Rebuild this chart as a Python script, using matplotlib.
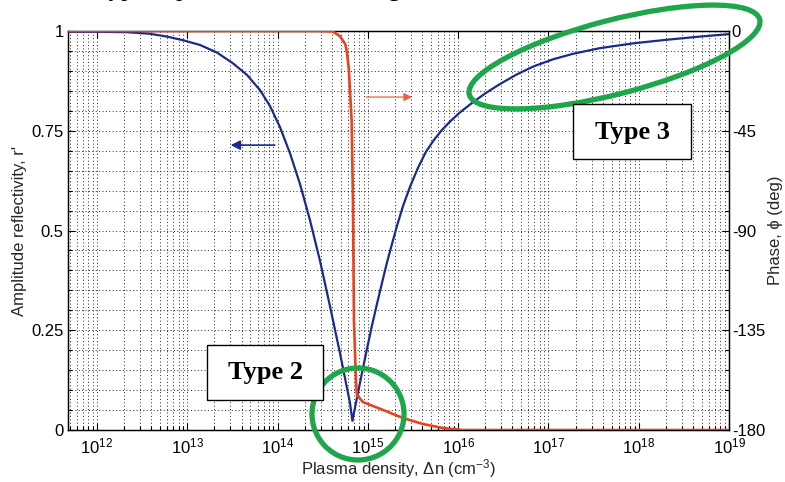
import numpy as np
import matplotlib
matplotlib.use("Agg")
import matplotlib.pyplot as plt
from matplotlib.patches import Ellipse, Circle, Rectangle
from matplotlib.ticker import FixedLocator, NullFormatter

plt.rcParams['font.family'] = ['Liberation Sans', 'DejaVu Sans']
plt.rcParams['mathtext.default'] = 'regular'

# ---------------- data ----------------
# amplitude reflectivity r' vs log10(plasma density)
amp_logn = [11.679, 12.033, 12.332, 12.587, 12.775, 12.952, 13.141, 13.329, 13.506,
            13.661, 13.805, 13.916, 14.027, 14.137, 14.248, 14.359, 14.470, 14.580,
            14.691, 14.802, 14.829,
            14.879, 14.935, 14.990, 15.045, 15.101, 15.156, 15.211, 15.267, 15.322,
            15.389, 15.466, 15.555, 15.643, 15.732, 15.821, 15.910, 16.020, 16.167,
            16.316, 16.463, 16.648, 16.832, 17.050, 17.275, 17.570, 17.936, 18.309,
            18.678, 18.991]
amp_r = [0.998, 0.998, 0.997, 0.993, 0.986, 0.977, 0.965, 0.946, 0.919,
         0.890, 0.852, 0.812, 0.759, 0.694, 0.617, 0.526, 0.424, 0.311,
         0.193, 0.068, 0.023,
         0.080, 0.143, 0.203, 0.261, 0.316, 0.368, 0.419, 0.466, 0.511,
         0.561, 0.609, 0.657, 0.697, 0.727, 0.752, 0.773, 0.796, 0.822,
         0.846, 0.867, 0.891, 0.911, 0.929, 0.943, 0.957, 0.969, 0.978,
         0.986, 0.992]

# phase (deg) vs log10(plasma density)
ph_logn = [11.679, 14.47, 14.61, 14.69, 14.75, 14.77, 14.79, 14.80, 14.82, 14.835,
           14.846, 14.868, 14.879, 14.946, 15.17, 15.39, 15.61, 15.83, 16.05, 19.0]
ph_deg = [0.0, 0.0, -0.2, -2.3, -5.9, -9.9, -17.6, -25.3, -40.1, -76.2,
          -130.3, -157.4, -164.2, -167.4, -171.0, -174.6, -177.3, -179.1, -180.0, -180.0]

x_ticks_exp = [12, 13, 14, 15, 16, 17, 18, 19]
x_tick_labels = ['10$^{%d}$' % e for e in x_ticks_exp]
left_ticks = [0, 0.25, 0.5, 0.75, 1]
left_tick_labels = ['0', '0.25', '0.5', '0.75', '1']
right_ticks = [-180, -135, -90, -45, 0]
right_tick_labels = ['-180', '-135', '-90', '-45', '0']

BLUE = '#1c2a8c'
RED = '#e8421e'
GREEN = '#1fa64a'

fig = plt.figure(figsize=(7.85, 4.82), dpi=100)
L, R, T, B = 68, 729, 31, 430
ax = fig.add_axes([L/785, 1 - B/482, (R - L)/785, (B - T)/482])

ax.set_xscale('log')
xmin, xmax = 10**11.679, 1e19
ax.set_xlim(xmin, xmax)
ax.set_ylim(0, 1)

ax.plot([10**v for v in amp_logn], amp_r, color=BLUE, lw=1.6, zorder=3)

# ticks
ax.xaxis.set_major_locator(FixedLocator([10.0**e for e in x_ticks_exp]))
ax.set_xticklabels(x_tick_labels, fontsize=12)
minors = [m * 10.0**e for e in range(11, 19) for m in range(2, 10)]
ax.xaxis.set_minor_locator(FixedLocator([v for v in minors if xmin <= v <= xmax]))
ax.xaxis.set_minor_formatter(NullFormatter())
ax.set_yticks(left_ticks)
ax.set_yticklabels(left_tick_labels, fontsize=12)
ax.set_yticks(np.arange(0, 1.0001, 0.05), minor=True)
ax.tick_params(which='both', direction='in', top=True, right=False, width=0.8)
ax.tick_params(which='major', length=5)
ax.tick_params(axis='y', which='major', pad=3)
ax.tick_params(axis='x', which='major', pad=5)
ax.tick_params(which='minor', length=3)
ax.tick_params(axis='x', which='minor', top=False)

ax.grid(True, which='both', color='0.15', linestyle=(0, (1, 2.5)), linewidth=0.7)
for s in ax.spines.values():
    s.set_linewidth(1.0)

ax.set_xlabel('Plasma density, \u0394n (cm$^{-3}$)', fontsize=12, color='0.15', labelpad=0)
ax.set_ylabel("Amplitude reflectivity, r'", fontsize=12, color='0.15', labelpad=3)

ax2 = ax.twinx()
ax2.set_ylim(-180, 0)
ax2.plot([10**v for v in ph_logn], ph_deg, color=RED, lw=1.9, zorder=4)
ax2.set_yticks(right_ticks)
ax2.set_yticklabels(right_tick_labels, fontsize=12)
ax2.set_yticks(np.arange(-180, 0.001, 9), minor=True)
ax2.tick_params(which='both', direction='in', width=0.8)
ax2.tick_params(which='major', length=5, pad=2)
ax2.tick_params(which='minor', length=3)
ax2.set_ylabel('Phase, \u03d5 (deg)', fontsize=12, color='0.15', labelpad=2)

# direction arrows
ax.annotate('', xy=(10**13.45, 0.714), xytext=(10**14.0, 0.714),
            arrowprops=dict(arrowstyle='-|>', color=BLUE, lw=1.2,
                            mutation_scale=14), zorder=5)
ax2.annotate('', xy=(10**15.52, -29.8), xytext=(10**14.95, -29.8),
             arrowprops=dict(arrowstyle='-|>', color='#f0603c', lw=0.9,
                             mutation_scale=12), zorder=5)

# overlay in pixel coordinates for annotations
ov = fig.add_axes([0, 0, 1, 1], zorder=10)
ov.set_xlim(0, 785)
ov.set_ylim(482, 0)
ov.axis('off')
ov.patch.set_alpha(0)

ov.add_patch(Ellipse((614.5, 57), 300, 74, angle=-14.5, fill=False,
                     ec=GREEN, lw=3.8))
ov.add_patch(Circle((358, 414), 46, fill=False, ec=GREEN, lw=3.8))
ov.add_patch(Rectangle((207, 345), 116, 55, fc='white', ec='black', lw=1.0))
ov.add_patch(Rectangle((573, 104), 118, 55, fc='white', ec='black', lw=1.0))
ov.text(265, 373, 'Type 2', fontsize=19, fontweight='bold', family='Liberation Serif',
        ha='center', va='center')
ov.text(632, 132, 'Type 3', fontsize=19, fontweight='bold', family='Liberation Serif',
        ha='center', va='center')

# document caption text cut off by the top edge (only descenders visible)
fig.text(95/785, 1 + 4/482, 'Typical phase of the switching', fontsize=18,
         family='Liberation Serif', ha='left', va='baseline')

fig.savefig('out.png', dpi=100)
